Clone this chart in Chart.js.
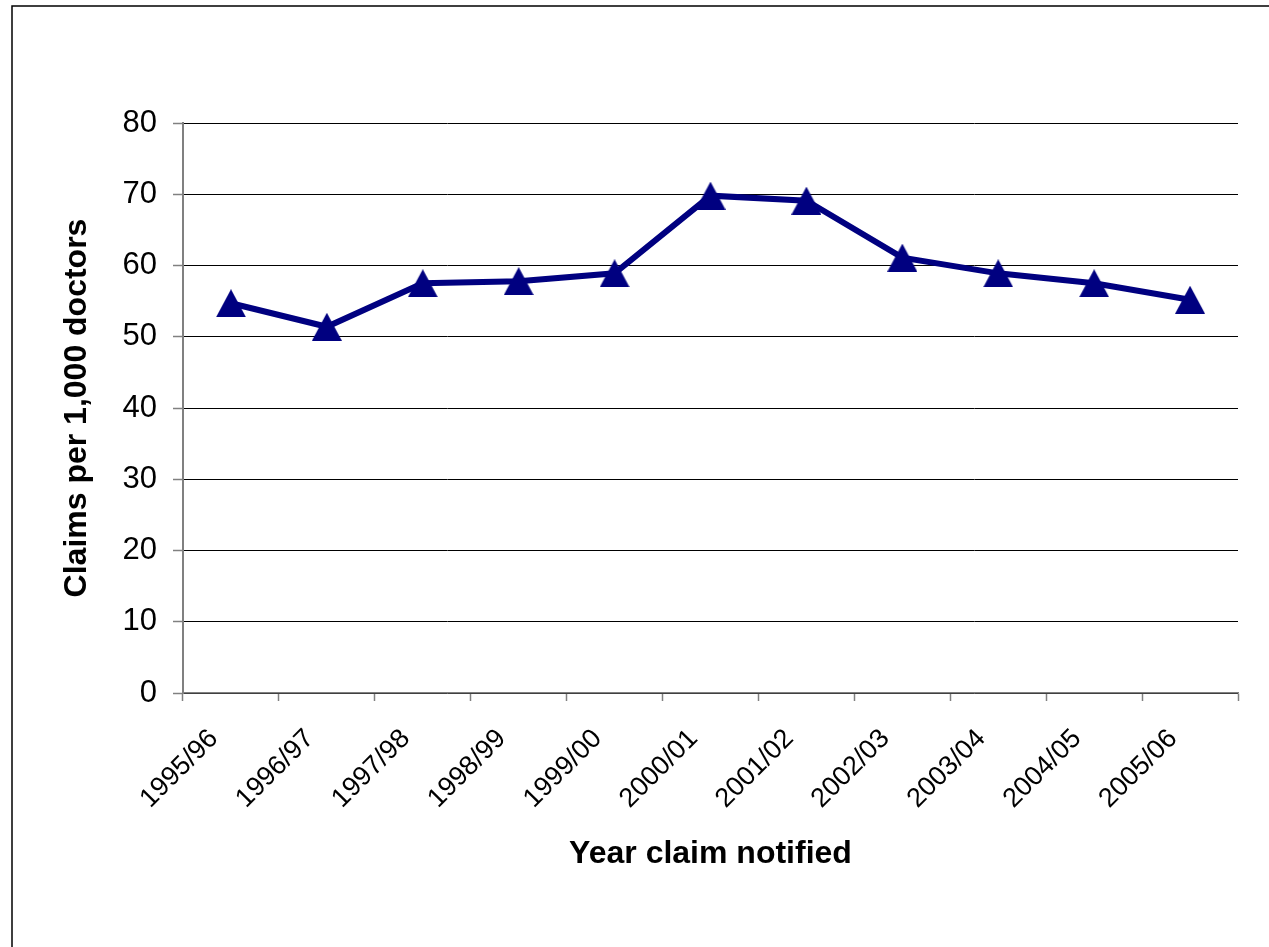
<!DOCTYPE html>
<html>
<head>
<meta charset="utf-8">
<script src="https://cdn.jsdelivr.net/npm/chart.js@4/dist/chart.umd.min.js"></script>
<style>
  html, body { margin: 0; padding: 0; background: #fff; }
  #wrap { position: relative; width: 1269px; height: 947px; }
</style>
</head>
<body>
<div id="wrap"><canvas id="chart"></canvas></div>
<script>
// data
const years = ["1995/96", "1996/97", "1997/98", "1998/99", "1999/00", "2000/01",
               "2001/02", "2002/03", "2003/04", "2004/05", "2005/06"];
const claimsPer1000 = [54.7, 51.4, 57.5, 57.8, 58.9, 69.8, 69.1, 61.1, 58.9, 57.5, 55.2];
const yTicks = [0, 10, 20, 30, 40, 50, 60, 70, 80];

const NAVY = "#000080";
const AXIS_GREY = "#808080";
const FONT = "'Liberation Sans', Arial, sans-serif";

// triangle marker centred in its own box (like the Excel marker)
const marker = document.createElement("canvas");
marker.width = 30;
marker.height = 28;
(function () {
  const c = marker.getContext("2d");
  c.fillStyle = NAVY;
  c.beginPath();
  c.moveTo(15, 0);
  c.lineTo(30, 28);
  c.lineTo(0, 28);
  c.closePath();
  c.fill();
})();

// outer frame: only the left and top edges are in view
const framePlugin = {
  id: "frame",
  afterDraw(chart) {
    const ctx = chart.ctx;
    ctx.save();
    ctx.strokeStyle = "#000";
    ctx.lineWidth = 1.5;
    ctx.beginPath();
    ctx.moveTo(12, chart.height);
    ctx.lineTo(12, 6);
    ctx.lineTo(chart.width, 6);
    ctx.stroke();
    ctx.restore();
  }
};

new Chart(document.getElementById("chart"), {
  type: "line",
  data: {
    labels: years,
    datasets: [{
      label: "Claims per 1,000 doctors",
      data: claimsPer1000,
      borderColor: NAVY,
      backgroundColor: NAVY,
      borderWidth: 6,
      tension: 0,
      pointStyle: marker,
      pointRadius: 15,
      pointHoverRadius: 15
    }]
  },
  options: {
    responsive: true,
    maintainAspectRatio: false,
    animation: false,
    layout: {
      padding: { left: 0, top: 123, right: 31, bottom: 0 }
    },
    plugins: {
      legend: { display: false },
      tooltip: { enabled: false }
    },
    scales: {
      x: {
        offset: true,
        grid: {
          display: true,
          offset: true,
          drawOnChartArea: false,
          drawTicks: true,
          tickLength: 8,
          tickColor: AXIS_GREY,
          tickWidth: 1.5
        },
        border: { color: AXIS_GREY, width: 1.5 },
        ticks: {
          autoSkip: false,
          minRotation: 45,
          maxRotation: 45,
          padding: 22,
          labelOffset: -17,
          color: "#000",
          font: { family: FONT, size: 27 }
        },
        title: {
          display: true,
          text: "Year claim notified",
          color: "#000",
          font: { family: FONT, size: 32, weight: "bold" },
          padding: { top: 0, bottom: 74 }
        },
        afterFit(scale) { scale.height = 947 - 693; }
      },
      y: {
        min: 0,
        max: 80,
        afterBuildTicks(scale) { scale.ticks = yTicks.map(v => ({ value: v })); },
        grid: {
          color: "#000",
          lineWidth: 1,
          drawTicks: true,
          tickLength: 10,
          tickColor: AXIS_GREY,
          tickWidth: 1.5
        },
        border: { color: AXIS_GREY, width: 2 },
        ticks: {
          padding: 16,
          color: "#000",
          font: { family: FONT, size: 31 }
        },
        title: {
          display: true,
          text: "Claims per 1,000 doctors",
          color: "#000",
          font: { family: FONT, size: 32, weight: "bold" },
          padding: { top: 58, bottom: 0 }
        },
        afterFit(scale) { scale.width = 183; }
      }
    }
  },
  plugins: [framePlugin]
});
</script>
</body>
</html>
